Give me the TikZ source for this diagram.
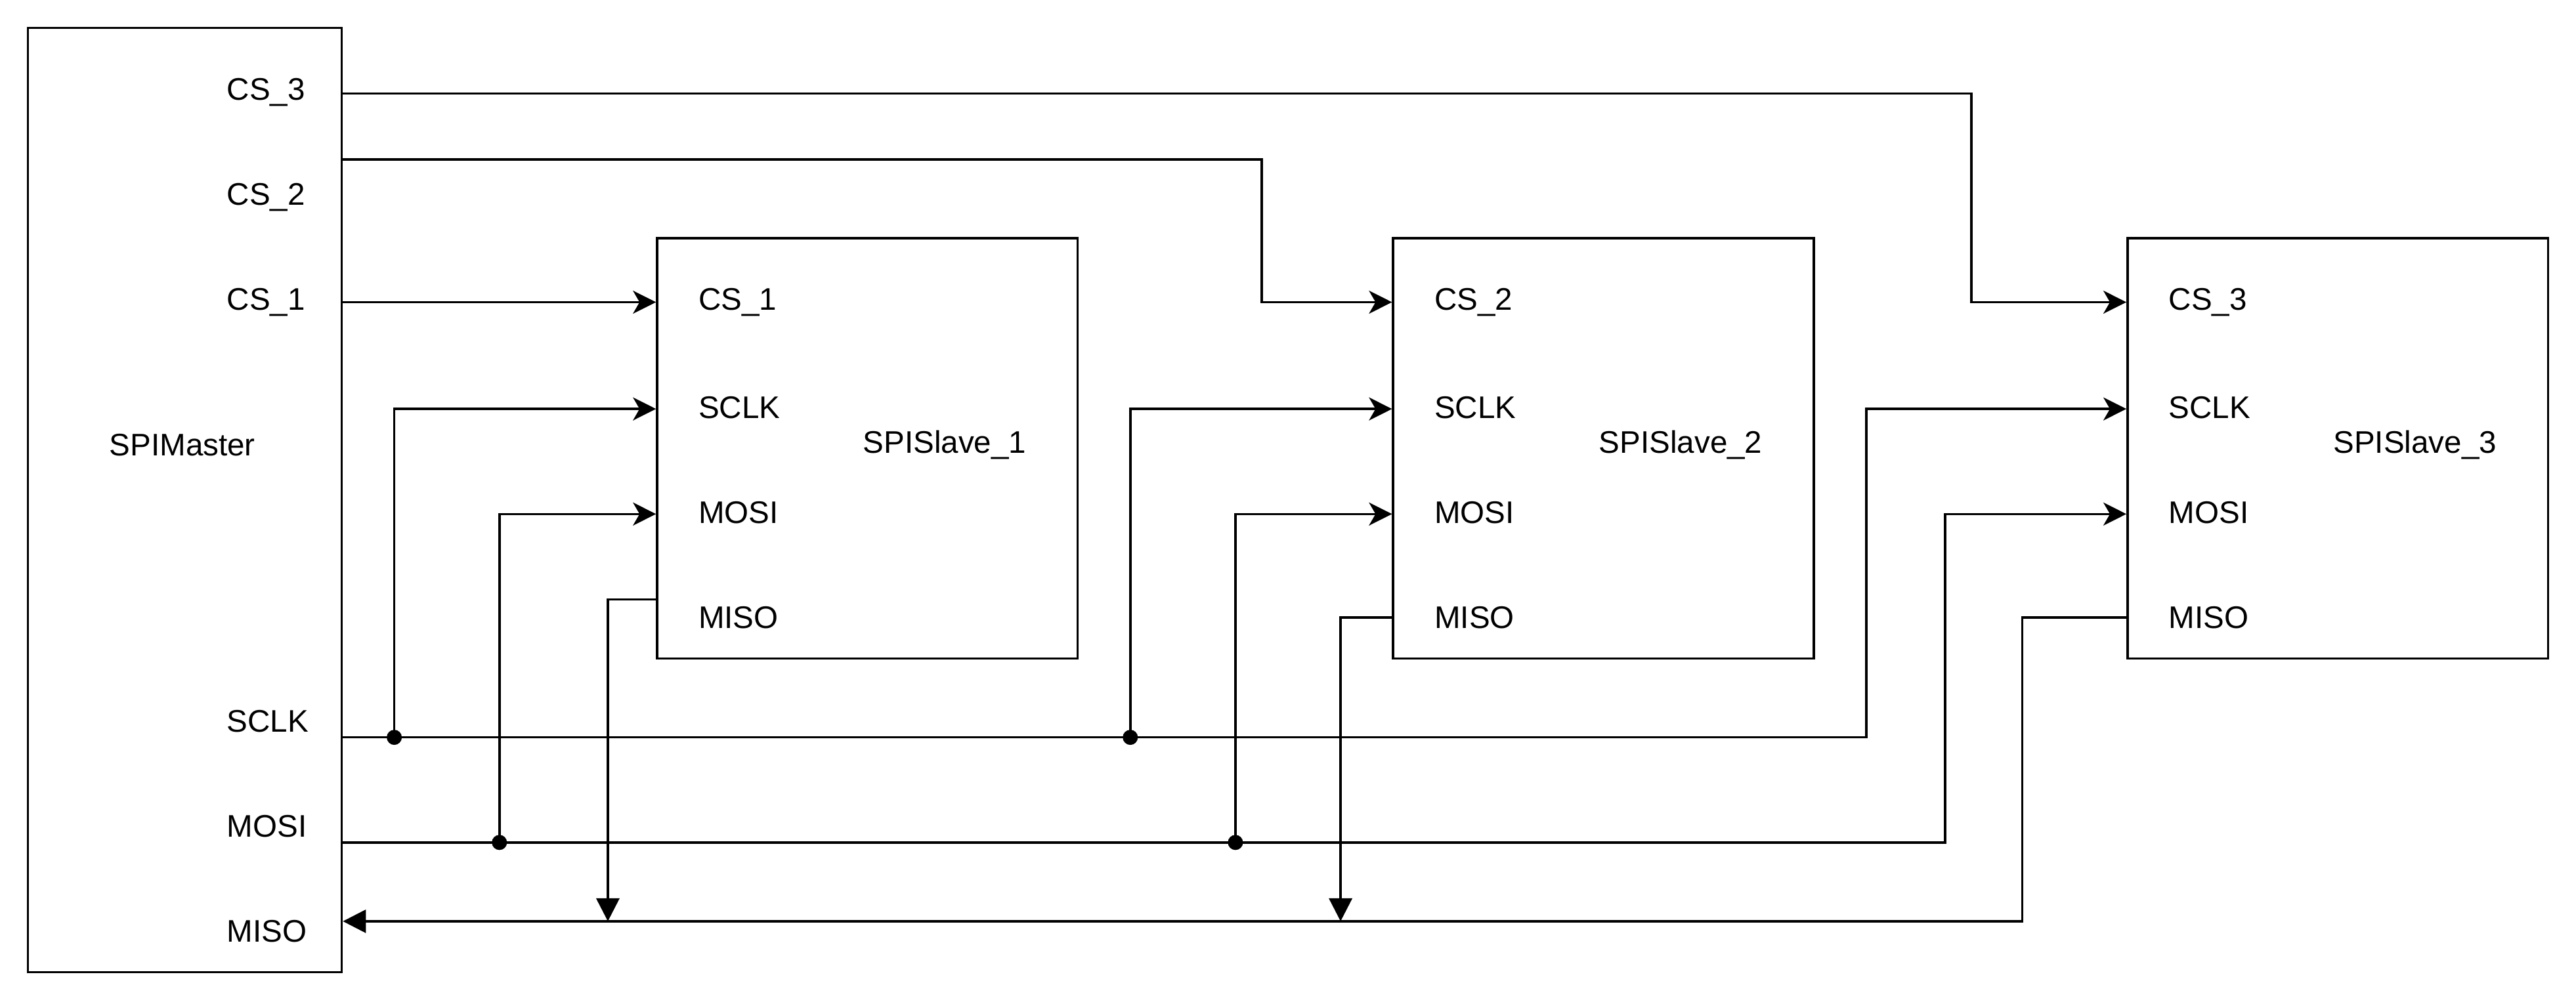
\documentclass[tikz,border=0pt]{standalone}
\usepackage{fontspec}
\setmainfont{Liberation Sans}
\usetikzlibrary{arrows.meta,positioning}

\tikzset{every picture/.style={line width=0.7pt}}
\tikzset{
  unitbox/.style={draw, inner sep=0pt, minimum width=128pt, minimum height=128pt},
  pinlabel/.style={anchor=west, inner sep=0.75pt, font=\fontsize{9.5}{11}\selectfont},
  namelabel/.style={inner sep=0.75pt, font=\fontsize{9.5}{11}\selectfont},
  sigwire/.style={-{Stealth[length=7pt,width=7pt,inset=2pt]}},
  misowire/.style={-{Triangle[length=7pt,width=7pt]}},
  junction/.style={circle, fill, inner sep=0pt, minimum size=4.6pt}
}

\begin{document}
\begin{tikzpicture}[x=0.5pt,y=0.5pt,yscale=-1,xscale=1]
\useasboundingbox (0,0) rectangle (1568,611);

%Shape: Rectangle [master]
\node (master) [draw, inner sep=0pt, minimum width=95.5pt, minimum height=287.5pt] at (112.5,304.5) {};
%Shape: Rectangle [slaves]
\node (slave1) [unitbox] at (528,273) {};
\node (slave2) [unitbox] at (976,273) {};
\node (slave3) [unitbox] at (1423,273) {};

% Text Node
\node (mname) [namelabel] at (111,271) {SPIMaster};
\node (mcs3) [pinlabel] at (136,56) {CS\_3};
\node (mcs2) [pinlabel] at (136,120) {CS\_2};
\node (mcs1) [pinlabel] at (136,184) {CS\_1};
\node (msclk) [pinlabel] at (136,439) {SCLK};
\node (mmosi) [pinlabel] at (136,503) {MOSI};
\node (mmiso) [pinlabel] at (136,567) {MISO};

% Text Node
\node (s1name) [namelabel] at (575,271) {SPISlave\_1};
\node (s1cs) [pinlabel] at (423,184) {CS\_1};
\node (s1sclk) [pinlabel] at (423,248) {SCLK};
\node (s1mosi) [pinlabel] at (423,312) {MOSI};
\node (s1miso) [pinlabel] at (423,376) {MISO};
% Text Node
\node (s2name) [namelabel] at (1023,271) {SPISlave\_2};
\node (s2cs) [pinlabel] at (871,184) {CS\_2};
\node (s2sclk) [pinlabel] at (871,248) {SCLK};
\node (s2mosi) [pinlabel] at (871,312) {MOSI};
\node (s2miso) [pinlabel] at (871,376) {MISO};
% Text Node
\node (s3name) [namelabel] at (1470,271) {SPISlave\_3};
\node (s3cs) [pinlabel] at (1318,184) {CS\_3};
\node (s3sclk) [pinlabel] at (1318,248) {SCLK};
\node (s3mosi) [pinlabel] at (1318,312) {MOSI};
\node (s3miso) [pinlabel] at (1318,376) {MISO};

% pin points on the boxes
\coordinate (m-cs3) at (master.east |- 0,57);
\coordinate (m-cs2) at (master.east |- 0,97);
\coordinate (m-cs1) at (master.east |- 0,184);
\coordinate (m-sclk) at (master.east |- 0,449);
\coordinate (m-mosi) at (master.east |- 0,513);
\coordinate (m-miso) at (master.east |- 0,561);
\coordinate (s1-cs) at (slave1.west |- 0,184);
\coordinate (s1-sclk) at (slave1.west |- 0,249);
\coordinate (s1-mosi) at (slave1.west |- 0,313);
\coordinate (s1-miso) at (slave1.west |- 0,365);
\coordinate (s2-cs) at (slave2.west |- 0,184);
\coordinate (s2-sclk) at (slave2.west |- 0,249);
\coordinate (s2-mosi) at (slave2.west |- 0,313);
\coordinate (s2-miso) at (slave2.west |- 0,376);
\coordinate (s3-cs) at (slave3.west |- 0,184);
\coordinate (s3-sclk) at (slave3.west |- 0,249);
\coordinate (s3-mosi) at (slave3.west |- 0,313);
\coordinate (s3-miso) at (slave3.west |- 0,376);

% junctions on the buses
\node (j1sclk) [junction] at (240,449) {};
\node (j2sclk) [junction] at (688,449) {};
\node (j1mosi) [junction] at (304,513) {};
\node (j2mosi) [junction] at (752,513) {};
\coordinate (t1miso) at (370,561);
\coordinate (t2miso) at (816,561);

%Straight Lines [chip selects]
\draw [sigwire] (m-cs1) -- (s1-cs);
\draw [sigwire] (m-cs2) -| (768,140) |- (s2-cs);
\draw [sigwire] (m-cs3) -| (1200,120) |- (s3-cs);

%Straight Lines [SCLK bus]
\draw [sigwire] (m-sclk) -| (1136,350) |- (s3-sclk);
\draw [sigwire] (j1sclk.center) |- (s1-sclk);
\draw [sigwire] (j2sclk.center) |- (s2-sclk);

%Straight Lines [MOSI bus]
\draw [sigwire] (m-mosi) -| (1184,400) |- (s3-mosi);
\draw [sigwire] (j1mosi.center) |- (s1-mosi);
\draw [sigwire] (j2mosi.center) |- (s2-mosi);

%Straight Lines [MISO bus]
\draw [misowire] (s3-miso) -| (1231,470) |- (m-miso);
\draw [misowire] (s1-miso) -| (t1miso);
\draw [misowire] (s2-miso) -| (t2miso);

\end{tikzpicture}
\end{document}
